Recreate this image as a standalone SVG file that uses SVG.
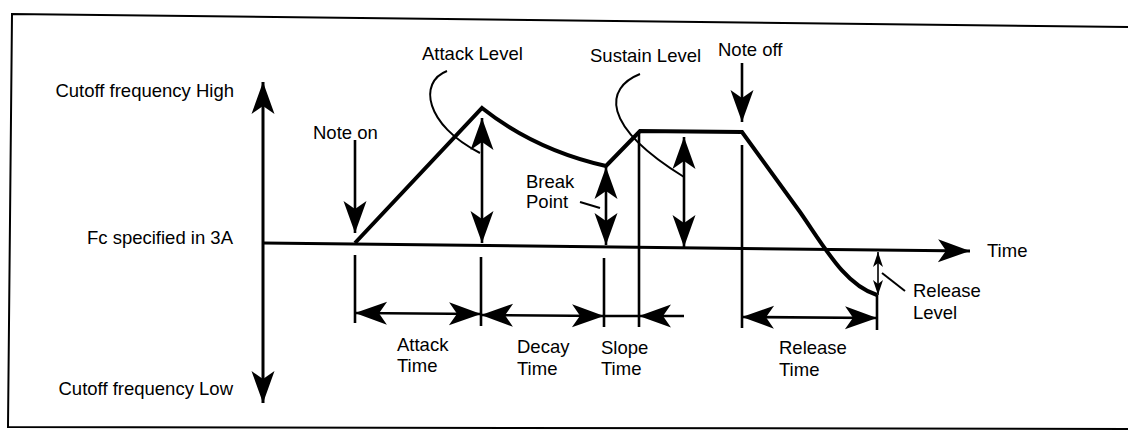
<svg xmlns="http://www.w3.org/2000/svg" width="1128" height="430" viewBox="0 0 1128 430">
<style>
text{font-family:"Liberation Sans",Arial,sans-serif;font-size:18.5px;fill:#000}
.ln{stroke:#000;fill:none;stroke-width:2.6}
.ax{stroke:#000;fill:none;stroke-width:3}
.env{stroke:#000;fill:none;stroke-width:4;stroke-linejoin:miter}
.ld{stroke:#000;fill:none;stroke-width:2}
.thin{stroke:#000;fill:none;stroke-width:1.6}
.big{marker-start:url(#ah);marker-end:url(#ah)}
.one{marker-end:url(#ah)}
</style>
<defs>
<marker id="ah" markerUnits="userSpaceOnUse" viewBox="-34 -13 36 26" markerWidth="36" markerHeight="26" refX="0" refY="0" orient="auto-start-reverse" overflow="visible">
<path d="M0,0 L-32,-11.5 L-24,0 L-32,11.5 Z" fill="#000"/>
</marker>
<marker id="sm" markerUnits="userSpaceOnUse" viewBox="-17 -6 19 12" markerWidth="19" markerHeight="12" refX="0" refY="0" orient="auto-start-reverse" overflow="visible">
<path d="M0,0 L-15,-5 L-11,0 L-15,5 Z" fill="#000"/>
</marker>
</defs>
<rect width="1128" height="430" fill="#fff"/>
<g id="frame">
<path d="M1128,27 L12,14 L8,427 L1128,429" class="ld" stroke-width="1.8"/>
</g>
<g id="axes">
<line x1="263" y1="82" x2="263" y2="403" class="ax big"/>
<line x1="263" y1="243" x2="970" y2="251" class="ax one"/>
</g>
<g id="envelope">
<path d="M355,243 L482,108 Q535,150 606,166 L640,131 L742,132 L800,212 C825,248 845,285 877,295" class="env"/>
</g>
<g id="connectors">
<line x1="355" y1="140" x2="355" y2="233" class="ln one"/>
<line x1="742" y1="63" x2="742" y2="122" class="ln one"/>
<line x1="482" y1="118" x2="482" y2="243" class="ln big"/>
<line x1="606" y1="167" x2="606" y2="245" class="ln big"/>
<line x1="684" y1="137" x2="684" y2="247" class="ln big"/>
<line x1="355" y1="255" x2="355" y2="323" class="ln"/>
<line x1="481" y1="257" x2="481" y2="326" class="ln"/>
<line x1="604" y1="258" x2="604" y2="327" class="ln"/>
<line x1="639" y1="131" x2="639" y2="327" class="ln"/>
<line x1="742" y1="145" x2="742" y2="328" class="ln"/>
<line x1="877" y1="295" x2="877" y2="330" class="ln"/>
<line x1="355" y1="313" x2="481" y2="314" class="ln big"/>
<line x1="481" y1="315" x2="604" y2="316" class="ln big"/>
<line x1="604" y1="316" x2="639" y2="316" class="ln"/>
<line x1="684" y1="316" x2="639" y2="316" class="ln one"/>
<line x1="742" y1="317" x2="877" y2="318" class="ln big"/>
<line x1="878" y1="252" x2="878" y2="295" class="thin" marker-start="url(#sm)" marker-end="url(#sm)"/>
<path d="M447,71 C418,82 425,125 480,153" class="ld"/>
<path d="M640,74 C605,88 600,125 684,177" class="ld"/>
<line x1="580" y1="202" x2="600" y2="208" class="ld"/>
<line x1="882" y1="273" x2="905" y2="291" class="ld"/>
</g>
<g id="label-high"><text x="234" y="97" text-anchor="end">Cutoff frequency High</text></g>
<g id="label-fc"><text x="233" y="244" text-anchor="end">Fc specified in 3A</text></g>
<g id="label-low"><text x="233" y="395" text-anchor="end">Cutoff frequency Low</text></g>
<g id="label-noteon"><text x="313" y="139">Note on</text></g>
<g id="label-attacklevel"><text x="422" y="60">Attack Level</text></g>
<g id="label-sustainlevel"><text x="590" y="62">Sustain Level</text></g>
<g id="label-noteoff"><text x="718" y="56">Note off</text></g>
<g id="label-breakpoint"><text x="526" y="188">Break</text><text x="526" y="208">Point</text></g>
<g id="label-attacktime"><text x="397" y="351">Attack</text><text x="397" y="372">Time</text></g>
<g id="label-decaytime"><text x="517" y="353">Decay</text><text x="517" y="375">Time</text></g>
<g id="label-slopetime"><text x="601" y="354">Slope</text><text x="601" y="375">Time</text></g>
<g id="label-releasetime"><text x="779" y="354">Release</text><text x="779" y="376">Time</text></g>
<g id="label-releaselevel"><text x="913" y="297">Release</text><text x="913" y="319">Level</text></g>
<g id="label-time"><text x="987" y="257">Time</text></g>
</svg>
